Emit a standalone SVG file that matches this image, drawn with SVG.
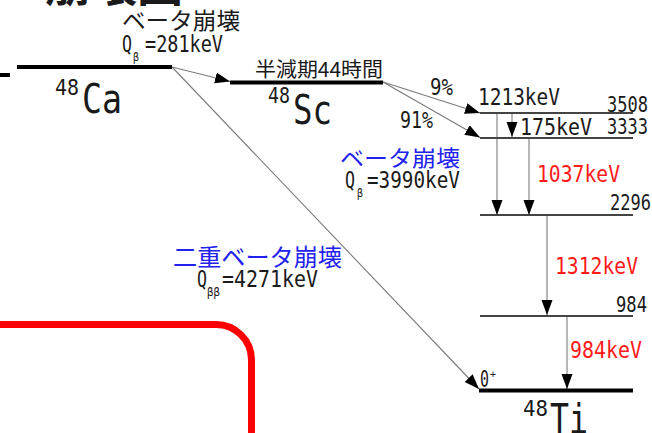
<svg xmlns="http://www.w3.org/2000/svg" width="652" height="433" viewBox="0 0 652 433">
<defs>
<style>
.m{font-family:"DejaVu Sans Mono","Liberation Mono",monospace;fill:#1a1a1a}
.j{font-family:"Noto Sans CJK JP",sans-serif;fill:#1a1a1a}
.red{fill:#ff1a1a}
.blue{fill:#2222ee}
.c{stroke:#7a7a7a;stroke-width:1.1;fill:none}
.lv{stroke:#444;stroke-width:2}
.gs{stroke:#000;stroke-width:4}
</style>
<marker id="ah" markerUnits="userSpaceOnUse" markerWidth="16" markerHeight="12" refX="15" refY="5.5" orient="auto">
<path d="M0,0 L15,5.5 L0,11 Z" fill="#000"/>
</marker>
</defs>
<rect width="652" height="433" fill="#fff"/>

<text class="j" x="45" y="1.5" font-size="44" font-weight="bold" textLength="138" lengthAdjust="spacingAndGlyphs">崩壊図</text>
<line x1="0" y1="75" x2="10" y2="75" class="gs"/>

<path d="M-10,324.5 H216 A35.5,35.5 0 0 1 251.5,360 V440" fill="none" stroke="#ff0000" stroke-width="7"/>

<g id="connectors">
<line class="c" x1="172" y1="67" x2="230" y2="81.5" marker-end="url(#ah)"/>
<line class="c" x1="172" y1="67" x2="479" y2="389" marker-end="url(#ah)"/>
<line class="c" x1="383" y1="82" x2="480" y2="113" marker-end="url(#ah)"/>
<line class="c" x1="383" y1="82" x2="480" y2="137.5" marker-end="url(#ah)"/>
<line class="c" x1="512" y1="113" x2="512" y2="137" marker-end="url(#ah)"/>
<line class="c" x1="497" y1="113" x2="497" y2="215" marker-end="url(#ah)"/>
<line class="c" x1="529" y1="138" x2="529" y2="215" marker-end="url(#ah)"/>
<line class="c" x1="547" y1="215" x2="547" y2="315" marker-end="url(#ah)"/>
<line class="c" x1="567" y1="316" x2="567" y2="389" marker-end="url(#ah)"/>
</g>

<g id="Ca48">
<line x1="17" y1="67" x2="172" y2="67" class="gs"/>
<text class="j" x="122" y="28.5" font-size="23" textLength="118" lengthAdjust="spacingAndGlyphs">ベータ崩壊</text>
<text class="m" x="122" y="52" font-size="23" textLength="10" lengthAdjust="spacingAndGlyphs">Q</text>
<text class="m" x="133" y="61" font-size="12" textLength="6" lengthAdjust="spacingAndGlyphs">β</text>
<text class="m" x="145" y="52" font-size="23" textLength="78" lengthAdjust="spacingAndGlyphs">=281keV</text>
<text class="m" x="55" y="95" font-size="21" textLength="24" lengthAdjust="spacingAndGlyphs">48</text>
<text class="m" x="82" y="113" font-size="41" textLength="40" lengthAdjust="spacingAndGlyphs">Ca</text>
</g>

<g id="Sc48">
<line x1="230" y1="82.5" x2="383" y2="82.5" class="gs" stroke-width="3.5"/>
<text class="j" x="255" y="76.5" font-size="20" textLength="128" lengthAdjust="spacingAndGlyphs">半減期44時間</text>
<text class="m" x="268" y="103" font-size="21" textLength="22" lengthAdjust="spacingAndGlyphs">48</text>
<text class="m" x="293" y="124" font-size="41" textLength="39" lengthAdjust="spacingAndGlyphs">Sc</text>
<text class="m" x="430" y="95" font-size="23" textLength="23" lengthAdjust="spacingAndGlyphs">9%</text>
<text class="m" x="400" y="128" font-size="23" textLength="33" lengthAdjust="spacingAndGlyphs">91%</text>
<text class="j blue" x="340" y="165.5" font-size="22" textLength="120" lengthAdjust="spacingAndGlyphs">ベータ崩壊</text>
<text class="m" x="345" y="188" font-size="23" textLength="10" lengthAdjust="spacingAndGlyphs">Q</text>
<text class="m" x="357" y="197" font-size="12" textLength="6" lengthAdjust="spacingAndGlyphs">β</text>
<text class="m" x="367" y="188" font-size="23" textLength="93" lengthAdjust="spacingAndGlyphs">=3990keV</text>
</g>

<g id="Ti3508">
<line x1="480" y1="113" x2="633" y2="113" class="lv"/>
<text class="m" x="478" y="105" font-size="23" textLength="82" lengthAdjust="spacingAndGlyphs">1213keV</text>
<text class="m" x="607" y="112" font-size="21" textLength="41" lengthAdjust="spacingAndGlyphs">3508</text>
</g>
<g id="Ti3333">
<line x1="480" y1="138" x2="633" y2="138" class="lv"/>
<text class="m" x="520" y="135" font-size="23" textLength="72" lengthAdjust="spacingAndGlyphs">175keV</text>
<text class="m" x="607" y="134" font-size="21" textLength="41" lengthAdjust="spacingAndGlyphs">3333</text>
<text class="m red" x="537" y="182" font-size="23" textLength="83" lengthAdjust="spacingAndGlyphs">1037keV</text>
</g>
<g id="Ti2296">
<line x1="480" y1="215" x2="633" y2="215" class="lv"/>
<text class="m" x="610" y="210" font-size="21" textLength="41" lengthAdjust="spacingAndGlyphs">2296</text>
<text class="m red" x="555" y="274" font-size="23" textLength="83" lengthAdjust="spacingAndGlyphs">1312keV</text>
</g>
<g id="Ti984">
<line x1="480" y1="316" x2="633" y2="316" class="lv"/>
<text class="m" x="616" y="312" font-size="21" textLength="31" lengthAdjust="spacingAndGlyphs">984</text>
<text class="m red" x="570" y="358" font-size="23" textLength="72" lengthAdjust="spacingAndGlyphs">984keV</text>
</g>
<g id="Ti48">
<line x1="479" y1="390.5" x2="633" y2="390.5" class="gs"/>
<text class="m" x="480" y="387" font-size="23" textLength="9" lengthAdjust="spacingAndGlyphs">0</text>
<text class="m" x="490" y="378" font-size="11" textLength="6" lengthAdjust="spacingAndGlyphs">+</text>
<text class="m" x="523" y="416" font-size="21" textLength="25" lengthAdjust="spacingAndGlyphs">48</text>
<text class="m" x="550" y="433" font-size="41" textLength="38" lengthAdjust="spacingAndGlyphs">Ti</text>
</g>

<g id="doubleBeta">
<text class="j blue" x="173" y="265.5" font-size="24" textLength="169" lengthAdjust="spacingAndGlyphs">二重ベータ崩壊</text>
<text class="m" x="197" y="287" font-size="23" textLength="10" lengthAdjust="spacingAndGlyphs">Q</text>
<text class="m" x="207" y="296" font-size="12" textLength="13" lengthAdjust="spacingAndGlyphs">ββ</text>
<text class="m" x="222" y="287" font-size="23" textLength="96" lengthAdjust="spacingAndGlyphs">=4271keV</text>
</g>
</svg>
